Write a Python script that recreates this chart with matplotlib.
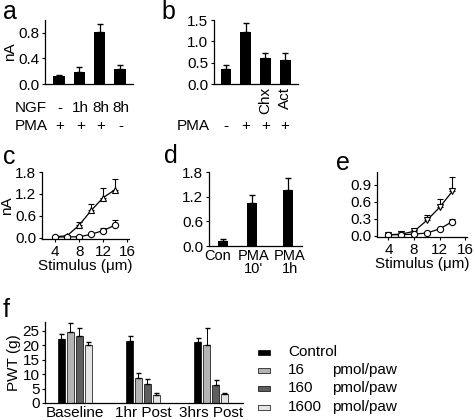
import numpy as np
import matplotlib
matplotlib.use('Agg')
import matplotlib.pyplot as plt
from matplotlib.patches import Rectangle
from matplotlib.transforms import blended_transform_factory, ScaledTranslation

plt.rcParams['font.family'] = ['Liberation Sans', 'DejaVu Sans']
plt.rcParams['font.size'] = 11
plt.rcParams['axes.linewidth'] = 0.9

FS = 11

# ---- data ----
a_vals = [0.12, 0.18, 0.82, 0.24]
a_err = [0.02, 0.08, 0.12, 0.05]
a_ngf = ['-', '1h', '8h', '8h']
a_pma = ['+', '+', '+', '-']

b_vals = [0.35, 1.22, 0.60, 0.57]
b_err = [0.10, 0.20, 0.13, 0.15]
b_pma = ['-', '+', '+', '+']
b_drug = ['', '', 'Chx', 'Act']

stim = [4, 6, 8, 10, 12, 14]
c_tri = [0.03, 0.06, 0.35, 0.75, 1.10, 1.32]
c_tri_err = [0.02, 0.03, 0.08, 0.18, 0.25, 0.30]
c_circ = [0.02, 0.03, 0.03, 0.10, 0.20, 0.35]
c_circ_err = [0.01, 0.01, 0.02, 0.03, 0.08, 0.15]

d_labels = ['Con', 'PMA\n10\'', 'PMA\n1h']
d_vals = [0.13, 1.05, 1.37]
d_err = [0.04, 0.20, 0.28]

e_tri = [0.02, 0.03, 0.08, 0.27, 0.50, 0.78]
e_tri_err = [0.01, 0.01, 0.03, 0.10, 0.15, 0.25]
e_circ = [0.02, 0.02, 0.03, 0.05, 0.12, 0.25]
e_circ_err = [0.01, 0.01, 0.01, 0.01, 0.02, 0.05]

f_groups = ['Baseline', '1hr Post', '3hrs Post']
f_series = ['Control', '16', '160', '1600']
f_vals = {
    'Control': [22.0, 21.5, 21.0],
    '16': [24.5, 8.5, 20.0],
    '160': [23.0, 6.5, 6.3],
    '1600': [20.0, 2.8, 3.2],
}
f_err = {
    'Control': [1.8, 1.8, 1.3],
    '16': [3.0, 2.0, 6.0],
    '160': [3.0, 1.7, 1.7],
    '1600': [1.0, 0.6, 0.2],
}
f_colors = ['#000000', '#b4b4b4', '#5e5e5e', '#e4e4e4']

W, H = 475, 420
fig = plt.figure(figsize=(W / 100, H / 100), dpi=100)


def px_axes(x0, y0, x1, y1):
    return fig.add_axes([x0 / W, 1 - y1 / H, (x1 - x0) / W, (y1 - y0) / H])


def style(ax, xticks=False):
    for s in ['top', 'right']:
        ax.spines[s].set_visible(False)
    ax.tick_params(axis='y', length=2.5, width=0.8, pad=1.5, labelsize=FS)
    if xticks:
        ax.tick_params(axis='x', length=2.5, width=0.8, pad=1.5, labelsize=FS)
    else:
        ax.tick_params(axis='x', length=0, labelsize=FS)


def up_err(err):
    return [np.zeros(len(err)), err]


def panel_letter(x, y, s):
    fig.text(x / W, 1 - y / H, s, fontsize=18, ha='left', va='center')


# ---- panel a ----
ax = px_axes(45, 20, 133, 84)
xa = np.arange(len(a_vals))
ax.bar(xa, a_vals, width=0.55, color='black')
ax.errorbar(xa, a_vals, yerr=up_err(a_err), fmt='none', ecolor='black',
            elinewidth=0.9, capsize=2)
ax.set_xlim(-0.69, 3.64)
ax.set_ylim(0, 1.0)
ax.set_yticks([0.0, 0.4, 0.8])
ax.set_xticks([])
ax.set_ylabel('nA', fontsize=FS, labelpad=1)
style(ax)
tr = blended_transform_factory(ax.transData, fig.transFigure)
for i in range(len(a_vals)):
    ax.text(xa[i] + 0.05, 1 - 108 / H, a_ngf[i], transform=tr, ha='center', va='center', fontsize=FS)
    ax.text(xa[i] + 0.05, 1 - 126 / H, a_pma[i], transform=tr, ha='center', va='center', fontsize=FS)
fig.text(15 / W, 1 - 108 / H, 'NGF', ha='left', va='center', fontsize=FS)
fig.text(15 / W, 1 - 126 / H, 'PMA', ha='left', va='center', fontsize=FS)
panel_letter(3, 12, 'a')

# ---- panel b ----
ax = px_axes(214, 20, 298, 84)
xb = np.arange(len(b_vals))
ax.bar(xb, b_vals, width=0.55, color='black')
ax.errorbar(xb, b_vals, yerr=up_err(b_err), fmt='none', ecolor='black',
            elinewidth=0.9, capsize=2)
ax.set_xlim(-0.61, 3.65)
ax.set_ylim(0, 1.5)
ax.set_yticks([0.0, 0.5, 1.0, 1.5])
ax.set_yticklabels(['0.0', '0.5', '1.0', '1.5'])
ax.set_xticks([])
style(ax)
tr = blended_transform_factory(ax.transData, fig.transFigure)
for i in range(len(b_vals)):
    ax.text(xb[i], 1 - 126 / H, b_pma[i], transform=tr, ha='center', va='center', fontsize=FS)
    if b_drug[i]:
        ax.text(xb[i], 1 - 87 / H, b_drug[i], transform=tr, ha='center', va='top',
                rotation=90, fontsize=FS)
fig.text(177 / W, 1 - 126 / H, 'PMA', ha='left', va='center', fontsize=FS)
panel_letter(161, 12, 'b')

# ---- panel c ----
ax = px_axes(42, 172, 129, 239)
ax.errorbar(stim, c_tri, yerr=up_err(c_tri_err), color='black', marker='^', ms=5,
            mfc='white', mec='black', mew=0.8, lw=0.9, elinewidth=0.8, capsize=2)
ax.errorbar(stim, c_circ, yerr=up_err(c_circ_err), color='black', marker='o', ms=4.5,
            mfc='white', mec='black', mew=0.8, lw=0.9, elinewidth=0.8, capsize=2)
ax.set_xlim(1.8, 16.3)
ax.set_ylim(-0.03, 1.8)
ax.set_yticks([0.0, 0.6, 1.2, 1.8])
ax.set_xticks([4, 8, 12, 16])
ax.set_ylabel('nA', fontsize=FS, labelpad=1)
ax.set_xlabel('Stimulus (\u03bcm)', fontsize=FS, labelpad=0)
style(ax, xticks=True)
panel_letter(3, 157, 'c')

# ---- panel d ----
ax = px_axes(209, 172, 302, 246)
xd = np.array([0, 1, 2.2])  # bar centres, last one set a bit apart
ax.bar(xd, d_vals, width=0.34, color='black')
ax.errorbar(xd, d_vals, yerr=up_err(d_err), fmt='none', ecolor='black',
            elinewidth=0.9, capsize=2)
ax.set_xlim(-0.47, 2.68)
ax.set_ylim(0, 1.8)
ax.set_yticks([0.0, 0.6, 1.2, 1.8])
ax.set_xticks(xd)
ax.set_xticklabels(d_labels, linespacing=0.9)
style(ax)
ax.tick_params(axis='x', pad=2, labelsize=10.5)
# nudge labels apart so they do not touch
for lab, dx in zip(ax.get_xticklabels(), [-5, 1, 2]):
    lab.set_transform(lab.get_transform() + ScaledTranslation(dx / 100, 0, fig.dpi_scale_trans))
panel_letter(164, 156, 'd')

# ---- panel e ----
ax = px_axes(377, 172, 467, 237)
ax.errorbar(stim, e_tri, yerr=up_err(e_tri_err), color='black', marker='v', ms=5,
            mfc='white', mec='black', mew=0.8, lw=0.9, elinewidth=0.8, capsize=2)
ax.errorbar(stim, e_circ, yerr=up_err(e_circ_err), color='black', marker='o', ms=4.5,
            mfc='white', mec='black', mew=0.8, lw=0.9, elinewidth=0.8, capsize=2)
ax.set_xlim(2.2, 16.3)
ax.set_ylim(-0.02, 1.12)
ax.set_yticks([0.0, 0.3, 0.6, 0.9])
ax.set_xticks([4, 8, 12, 16])
ax.set_xlabel('Stimulus (\u03bcm)', fontsize=FS, labelpad=0)
style(ax, xticks=True)
panel_letter(336, 163, 'e')

# ---- panel f ----
ax = px_axes(45, 322, 243, 403)
xf = np.arange(len(f_groups))
bw = 0.11
offsets = (np.arange(len(f_series)) - 1.5) * 0.132
for k, name in enumerate(f_series):
    pos = xf + offsets[k]
    ax.bar(pos, f_vals[name], width=bw, color=f_colors[k], edgecolor='black', linewidth=0.5)
    ax.errorbar(pos, f_vals[name], yerr=up_err(f_err[name]), fmt='none', ecolor='black',
                elinewidth=0.7, capsize=1.8)
ax.set_xlim(-0.44, 2.47)
ax.set_ylim(0, 28)
ax.set_yticks([0, 5, 10, 15, 20, 25])
ax.set_xticks(xf)
ax.set_xticklabels(f_groups)
ax.set_ylabel('PWT (g)', fontsize=FS, labelpad=1)
style(ax)
ax.tick_params(axis='x', pad=2)
panel_letter(3, 310, 'f')

# legend for f
row_y = [352, 370, 388, 407]
leg_first = ['Control', '16', '160', '1600']
for k in range(len(f_series)):
    y = row_y[k]
    fig.patches.append(Rectangle((258 / W, 1 - (y + 2.5) / H), 12 / W, 5 / H,
                                 transform=fig.transFigure, facecolor=f_colors[k],
                                 edgecolor='black', linewidth=0.5))
    fig.text(288 / W, 1 - y / H, leg_first[k], ha='left', va='center', fontsize=FS)
    if k > 0:
        fig.text(332 / W, 1 - y / H, 'pmol/paw', ha='left', va='center', fontsize=FS)

fig.savefig('out.png', dpi=100, facecolor='white')
